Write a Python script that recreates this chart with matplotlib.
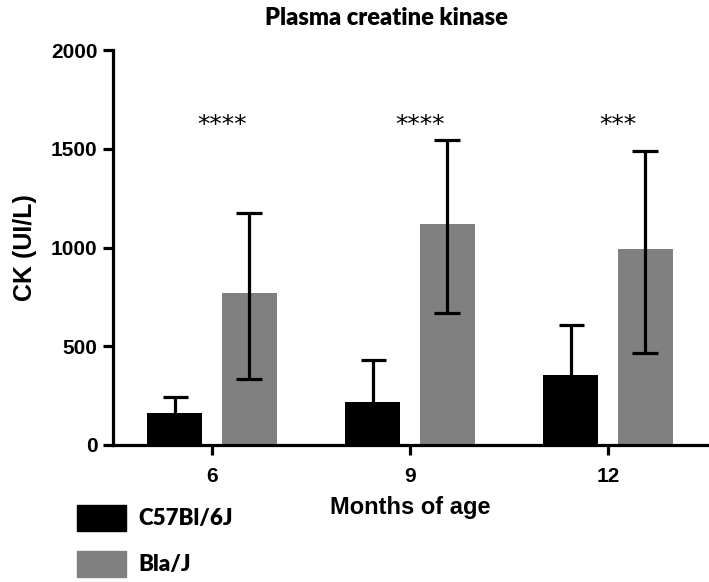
import numpy as np
import matplotlib.pyplot as plt
from matplotlib.patches import Patch

# data
ages = ['6', '9', '12']
wt_mean = [161, 219, 353]
wt_err = [81, 210, 257]
mdx_mean = [770, 1119, 992]
mdx_err_lo = [436, 451, 526]
mdx_err_hi = [405, 425, 497]
stars = ['****', '****', '***']
star_y = [1620, 1620, 1620]
groups = ['C57Bl/6J', 'Bla/J']

ax_font = ['Liberation Sans', 'DejaVu Sans']
cal_font = ['Lato', 'DejaVu Sans']

fig = plt.figure(figsize=(7.09, 5.82), dpi=100)
ax = fig.add_axes([113/709, 1-445/582, 1-113/709, 395/582])

x = np.arange(len(ages))
w = 0.278
off = 0.188
ekw = dict(elinewidth=2.3, capthick=2.3, ecolor='black')
b1 = ax.bar(x - off, wt_mean, w, color='black', zorder=2)
# one-sided bars: draw behind the black bars so the lower cap is hidden
ax.errorbar(x - off, wt_mean, yerr=wt_err, fmt='none', capsize=9, zorder=1, **ekw)
b2 = ax.bar(x + off, mdx_mean, w, color='#808080', zorder=2)
ax.errorbar(x + off, mdx_mean, yerr=[mdx_err_lo, mdx_err_hi], fmt='none',
            capsize=9.5, zorder=3, **ekw)

for xi, s, sy in zip(x, stars, star_y):
    ax.text(xi + 0.05, sy, s, ha='center', va='center', fontsize=18,
            family='DejaVu Sans')

ax.set_xlim(-0.5, 2.51)
ax.set_ylim(0, 2000)
ax.set_yticks([0, 500, 1000, 1500, 2000])
ax.set_xticks(x)
ax.set_xticklabels(ages)
for sp in ['top', 'right']:
    ax.spines[sp].set_visible(False)
for sp in ['left', 'bottom']:
    ax.spines[sp].set_linewidth(2.3)
ax.tick_params(width=2.3, length=7, labelsize=15)
ax.tick_params(axis='x', pad=9)
ax.tick_params(axis='y', pad=4)
for lab in ax.get_xticklabels() + ax.get_yticklabels():
    lab.set_family(ax_font)
    lab.set_fontweight('bold')

ax.set_ylabel('CK (UI/L)', fontsize=18, fontweight='bold', family=ax_font, va='center')
ax.yaxis.set_label_coords(-0.148, 0.5)
ax.set_xlabel('Months of age', fontsize=17, fontweight='bold', family=ax_font, va='center')
ax.xaxis.set_label_coords(0.498, -0.157)
fig.text(386/709, 1-18/582, 'Plasma creatine kinase', ha='center', va='center',
         fontsize=17, fontweight='heavy', family=cal_font)

handles = [Patch(color='black'), Patch(color='#808080')]
fig.legend(handles, groups, loc='upper left', bbox_to_anchor=(77/709, 1-505/582),
           frameon=False, borderpad=0, borderaxespad=0, handlelength=2.2,
           handleheight=1.42, labelspacing=0.9, handletextpad=0.55,
           prop=dict(family=cal_font, weight='heavy', size=16))

fig.savefig('out.png', dpi=100)
